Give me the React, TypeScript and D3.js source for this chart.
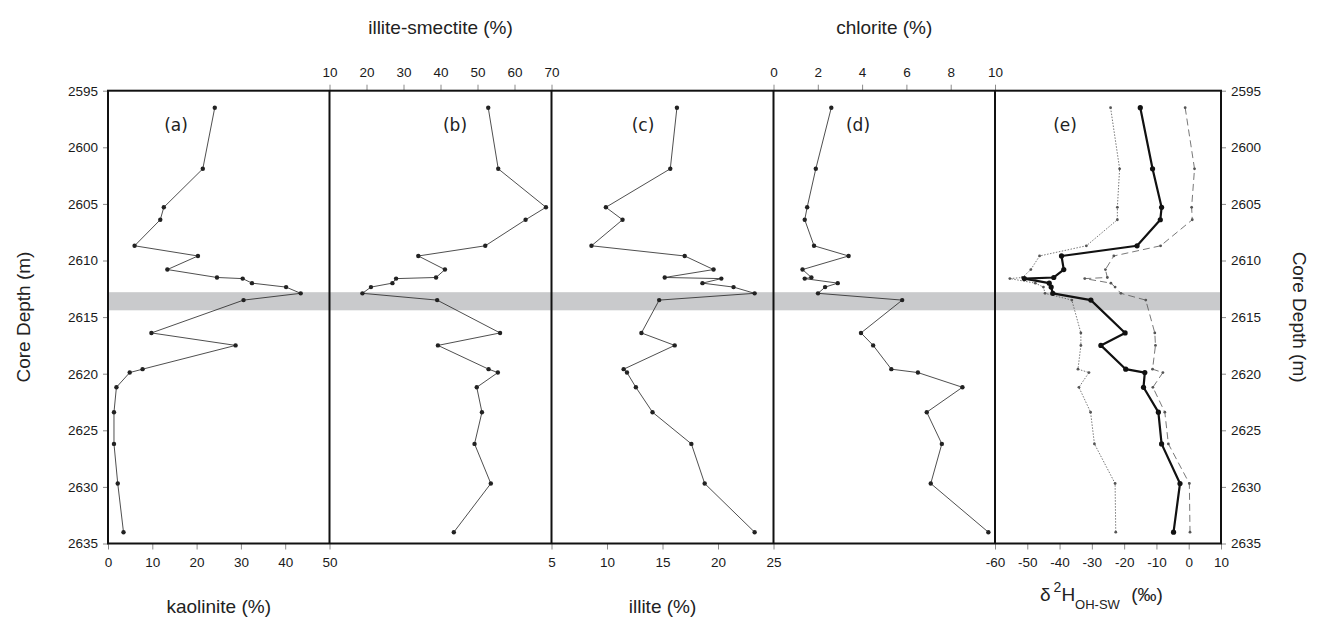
import React, { useEffect, useRef } from "react";
import * as d3 from "d3";

// sample depths shared by all panels (m)
const depths = [
  2596.5, 2601.9, 2605.3, 2606.4, 2608.7, 2609.6, 2610.8, 2611.5, 2611.6, 2612.0, 2612.35,
  2612.9, 2613.5, 2616.4, 2617.5, 2619.6, 2619.9, 2621.2, 2623.4, 2626.2, 2629.7, 2634.0,
];
const kaolinite = [
  24.1, 21.4, 12.6, 11.8, 6.0, 20.3, 13.4, 24.6, 30.4, 32.5, 40.2, 43.5, 30.6, 9.8, 28.8, 7.8,
  4.9, 1.9, 1.35, 1.35, 2.2, 3.5,
];
const illiteSmectite = [
  52.9, 55.6, 68.5, 63.0, 52.1, 34.0, 41.2, 38.8, 28.0, 27.0, 21.2, 18.9, 39.1, 56.1, 39.3,
  53.0, 55.5, 49.8, 51.2, 49.2, 53.6, 43.6,
];
const illite = [
  16.3, 15.7, 9.9, 11.4, 8.6, 17.0, 19.6, 15.2, 20.3, 18.6, 21.4, 23.3, 14.7, 13.1, 16.1, 11.5,
  11.8, 12.6, 14.1, 17.6, 18.8, 23.3,
];
const chlorite = [
  2.61, 1.91, 1.52, 1.41, 1.83, 3.39, 1.31, 1.71, 1.41, 2.9, 2.33, 2.01, 5.81, 3.95, 4.5, 5.32,
  6.52, 8.53, 6.92, 7.6, 7.1, 9.7,
];
const d2hMain = [
  -15.0, -11.2, -8.4, -8.8, -16.0, -39.4, -38.7, -41.8, -50.9, -43.2, -42.6, -42.1, -30.3,
  -19.7, -27.2, -19.5, -13.6, -14.0, -9.4, -8.4, -2.7, -4.7,
];
const d2hLow = [
  -24.2, -21.4, -22.1, -22.1, -31.7, -46.2, -48.9, -51.5, -55.4, -47.5, -45.0, -44.5, -36.2,
  -33.4, -33.4, -34.3, -30.9, -34.0, -30.4, -29.2, -22.8, -22.6,
];
const d2hHigh = [
  -1.1, 1.8, 0.9, 1.1, -8.7, -23.2, -25.8, -25.2, -32.2, -24.1, -22.8, -21.0, -13.3, -10.5,
  -10.3, -11.2, -8.0, -11.1, -7.4, -6.3, 0.2, 0.4,
];
const depthTicks = [2595, 2600, 2605, 2610, 2615, 2620, 2625, 2630, 2635];
const bandDepth = [2612.8, 2614.4];

const App: React.FC = () => {
  const svgRef = useRef<SVGSVGElement | null>(null);

  useEffect(() => {
    if (!svgRef.current) return;
    document.body.style.margin = "0";

    const width = 1320;
    const height = 629;
    const top = 90.7;
    const bottom = 543.5;
    const edges = [108, 329.5, 551.5, 773.5, 995, 1221];

    const svg = d3.select(svgRef.current).attr("width", width).attr("height", height);
    svg.selectAll("*").remove();

    const y = d3.scaleLinear().domain([2595, 2635]).range([top, bottom]);
    const font = "'Liberation Sans', Arial, sans-serif";
    const plain = (d: d3.NumberValue) => `${d}`; // hyphen minus, like the original

    // grey band
    svg
      .append("rect")
      .attr("x", edges[0])
      .attr("y", y(bandDepth[0]))
      .attr("width", edges[5] - edges[0])
      .attr("height", y(bandDepth[1]) - y(bandDepth[0]))
      .attr("fill", "#c9cacc");

    // x scales per panel
    const xa = d3.scaleLinear().domain([0, 50]).range([edges[0], edges[1]]);
    const xb = d3.scaleLinear().domain([10, 70]).range([edges[1], edges[2]]);
    const xc = d3.scaleLinear().domain([5, 25]).range([edges[2], edges[3]]);
    const xd = d3.scaleLinear().domain([0, 10]).range([edges[3], edges[4]]);
    const xe = d3.scaleLinear().domain([-60, 10]).range([edges[4], edges[5]]);

    const tickStyle = (g: d3.Selection<SVGGElement, unknown, null, undefined>) => {
      g.select(".domain").remove();
      g.selectAll(".tick line").attr("stroke", "#8a8a8a").attr("stroke-width", 1);
      g.selectAll(".tick text")
        .attr("fill", "#1a1a1a")
        .style("font-family", font)
        .style("font-size", "13.5px");
    };

    // bottom axes
    const bottomAxes: [d3.ScaleLinear<number, number>, number[]][] = [
      [xa, [0, 10, 20, 30, 40, 50]],
      [xc, [5, 10, 15, 20, 25]],
      [xe, [-60, -50, -40, -30, -20, -10, 0, 10]],
    ];
    bottomAxes.forEach(([sc, ticks]) => {
      svg
        .append("g")
        .attr("transform", `translate(0,${bottom})`)
        .call(d3.axisBottom(sc).tickValues(ticks).tickSize(6).tickPadding(8).tickFormat(plain))
        .call(tickStyle);
    });

    // top axes
    const topAxes: [d3.ScaleLinear<number, number>, number[]][] = [
      [xb, [10, 20, 30, 40, 50, 60, 70]],
      [xd, [0, 2, 4, 6, 8, 10]],
    ];
    topAxes.forEach(([sc, ticks]) => {
      svg
        .append("g")
        .attr("transform", `translate(0,${top})`)
        .call(d3.axisTop(sc).tickValues(ticks).tickSize(6).tickPadding(8).tickFormat(plain))
        .call(tickStyle);
    });

    // depth axes
    svg
      .append("g")
      .attr("transform", `translate(${edges[0]},0)`)
      .call(d3.axisLeft(y).tickValues(depthTicks).tickSize(5).tickPadding(5).tickFormat(plain))
      .call(tickStyle);
    svg
      .append("g")
      .attr("transform", `translate(${edges[5]},0)`)
      .call(d3.axisRight(y).tickValues(depthTicks).tickSize(5).tickPadding(5).tickFormat(plain))
      .call(tickStyle);

    // frame and panel dividers
    svg
      .append("rect")
      .attr("x", edges[0])
      .attr("y", top)
      .attr("width", edges[5] - edges[0])
      .attr("height", bottom - top)
      .attr("fill", "none")
      .attr("stroke", "#111")
      .attr("stroke-width", 2);
    svg
      .selectAll("line.divider")
      .data(edges.slice(1, 5))
      .enter()
      .append("line")
      .attr("class", "divider")
      .attr("x1", (d) => d)
      .attr("x2", (d) => d)
      .attr("y1", top)
      .attr("y2", bottom)
      .attr("stroke", "#111")
      .attr("stroke-width", 2);

    // profile drawing helper
    const drawProfile = (
      sc: d3.ScaleLinear<number, number>,
      vals: number[],
      opts: { width: number; dash?: string; r: number; color: string }
    ) => {
      const pts = vals.map((v, i) => [sc(v), y(depths[i])] as [number, number]);
      svg
        .append("path")
        .attr("d", d3.line()(pts))
        .attr("fill", "none")
        .attr("stroke", opts.color)
        .attr("stroke-width", opts.width)
        .attr("stroke-dasharray", opts.dash || null)
        .attr("stroke-linejoin", "round");
      svg
        .append("g")
        .selectAll("circle")
        .data(pts)
        .enter()
        .append("circle")
        .attr("cx", (d) => d[0])
        .attr("cy", (d) => d[1])
        .attr("r", opts.r)
        .attr("fill", opts.color);
    };

    const thin = { width: 0.8, r: 2.2, color: "#222" };
    drawProfile(xa, kaolinite, thin);
    drawProfile(xb, illiteSmectite, thin);
    drawProfile(xc, illite, thin);
    drawProfile(xd, chlorite, thin);
    drawProfile(xe, d2hLow, { width: 0.8, r: 1.4, color: "#555", dash: "1.5 1.5" });
    drawProfile(xe, d2hHigh, { width: 0.8, r: 1.4, color: "#555", dash: "7 4" });
    drawProfile(xe, d2hMain, { width: 2.2, r: 2.6, color: "#111" });

    // panel labels
    const panelLabels = ["(a)", "(b)", "(c)", "(d)", "(e)"];
    const labelX = [176, 455, 643, 858, 1065];
    svg
      .selectAll("text.panel")
      .data(panelLabels)
      .enter()
      .append("text")
      .attr("class", "panel")
      .attr("x", (d, i) => labelX[i])
      .attr("y", 131)
      .attr("text-anchor", "middle")
      .style("font-family", "'DejaVu Sans', Verdana, sans-serif")
      .style("font-size", "17px")
      .attr("fill", "#222")
      .text((d) => d);

    // axis titles
    const title = (x: number, yy: number, txt: string) =>
      svg
        .append("text")
        .attr("x", x)
        .attr("y", yy)
        .attr("text-anchor", "middle")
        .style("font-family", font)
        .style("font-size", "19px")
        .attr("fill", "#222")
        .text(txt);
    title((edges[0] + edges[1]) / 2, 613, "kaolinite (%)");
    title((edges[2] + edges[3]) / 2, 613, "illite (%)");
    title((edges[1] + edges[2]) / 2, 34, "illite-smectite (%)");
    title((edges[3] + edges[4]) / 2, 34, "chlorite (%)");

    // delta label
    const dl = svg
      .append("text")
      .attr("x", 1040)
      .attr("y", 601)
      .style("font-family", font)
      .style("font-size", "19px")
      .attr("fill", "#222");
    dl.append("tspan").text("δ");
    dl.append("tspan").attr("dx", 3).attr("dy", -9).style("font-size", "14px").text("2");
    dl.append("tspan").attr("dy", 9).text("H");
    dl.append("tspan").attr("dy", 8).style("font-size", "13px").text("OH-SW");
    dl.append("tspan").attr("dx", 6).attr("dy", -8).text(" (‰)");

    // depth titles
    svg
      .append("text")
      .attr("transform", `translate(25,${(top + bottom) / 2}) rotate(-90)`)
      .attr("text-anchor", "middle")
      .attr("dominant-baseline", "middle")
      .style("font-family", font)
      .style("font-size", "19px")
      .attr("fill", "#222")
      .text("Core Depth (m)");
    svg
      .append("text")
      .attr("transform", `translate(1298,${(top + bottom) / 2}) rotate(90)`)
      .attr("text-anchor", "middle")
      .attr("dominant-baseline", "middle")
      .style("font-family", font)
      .style("font-size", "19px")
      .attr("fill", "#222")
      .text("Core Depth (m)");
  }, []);

  return (
    <div>
      <svg ref={svgRef}></svg>
    </div>
  );
};

export default App;
